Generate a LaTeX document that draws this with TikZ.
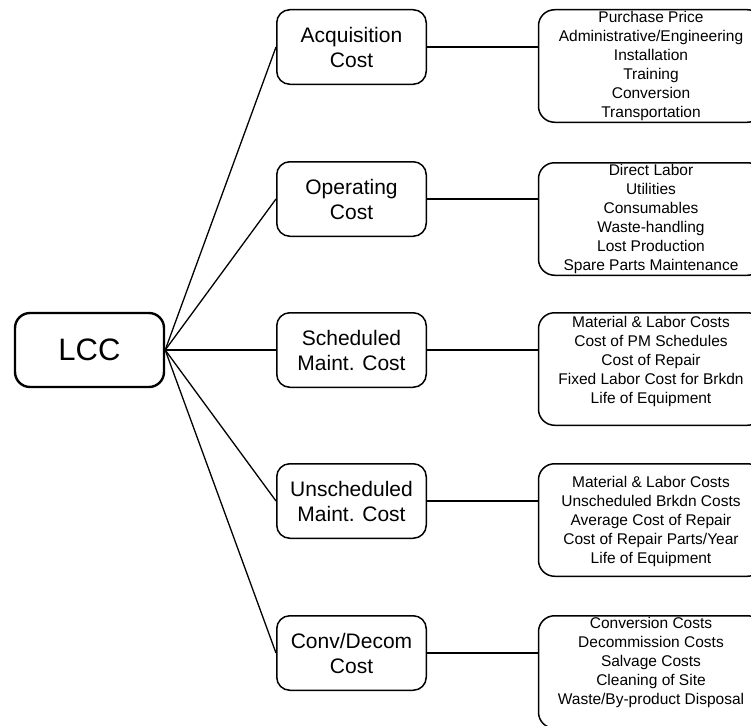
\documentclass[tikz,border=0pt]{standalone}
\usepackage{fontspec}
\setmainfont{Liberation Sans}
\begin{document}
\begin{tikzpicture}[x=1pt,y=-1pt,
  rootbox/.style={draw, line width=2.4pt, rounded corners=15pt,
    minimum width=149pt, minimum height=74pt, inner sep=0pt,
    font=\fontsize{31}{36}\selectfont},
  costbox/.style={draw, line width=1.5pt, rounded corners=13pt,
    minimum width=149.5pt, minimum height=74.5pt, inner sep=0pt,
    align=center, font=\fontsize{21}{25}\selectfont},
  detailbox/.style={draw, line width=1.5pt, rounded corners=16pt,
    minimum width=225pt, minimum height=112.5pt, inner sep=0pt},
  detailtext/.style={anchor=north, inner sep=0pt, align=center,
    font=\fontsize{15.5}{19}\selectfont},
  link/.style={line width=1.3pt}]
\useasboundingbox (0,0) rectangle (751,725);
\clip (0,0) rectangle (751,725);

% root
\node[rootbox] (lcc) at (89.5,350) {LCC};

% cost categories
\node[costbox] (acq)   at (351.5,47)  {Acquisition\\Cost};
\node[costbox] (oper)  at (351.5,199) {Operating\\Cost};
\node[costbox] (sched) at (351.5,350) {Scheduled\\Maint. Cost};
\node[costbox] (unsch) at (351.5,501) {Unscheduled\\Maint. Cost};
\node[costbox] (conv)  at (351.5,653) {Conv/Decom\\Cost};

% detail boxes
\node[detailbox] (dacq)   at (651,66)  {};
\node[detailbox] (doper)  at (651,219) {};
\node[detailbox] (dsched) at (651,369) {};
\node[detailbox] (dunsch) at (651,520) {};
\node[detailbox] (dconv)  at (651,672) {};

% detail texts
\node[detailtext] (tacq) at (651,11.5)
  {Purchase Price\\Administrative/Engineering\\Installation\\Training\\Conversion\\Transportation};
\node[detailtext] (toper) at (651,164.5)
  {Direct Labor\\Utilities\\Consumables\\Waste-handling\\Lost Production\\Spare Parts Maintenance};
\node[detailtext] (tsched) at (651,316.5)
  {Material \& Labor Costs\\Cost of PM Schedules\\Cost of Repair\\Fixed Labor Cost for Brkdn\\Life of Equipment};
\node[detailtext] (tunsch) at (651,476.5)
  {Material \& Labor Costs\\Unscheduled Brkdn Costs\\Average Cost of Repair\\Cost of Repair Parts/Year\\Life of Equipment};
\node[detailtext] (tconv) at (651,617.5)
  {Conversion Costs\\Decommission Costs\\Salvage Costs\\Cleaning of Site\\Waste/By-product Disposal};

% connectors from the root
\foreach \c in {acq,oper,sched,unsch,conv}
  \draw[link] (lcc.east) -- (\c.west);

% connectors to the detail boxes
\draw[link] (acq.east)   -- (acq.east -| dacq.west);
\draw[link] (oper.east)  -- (oper.east -| doper.west);
\draw[link] (sched.east) -- (sched.east -| dsched.west);
\draw[link] (unsch.east) -- (unsch.east -| dunsch.west);
\draw[link] (conv.east)  -- (conv.east -| dconv.west);
\end{tikzpicture}
\end{document}
